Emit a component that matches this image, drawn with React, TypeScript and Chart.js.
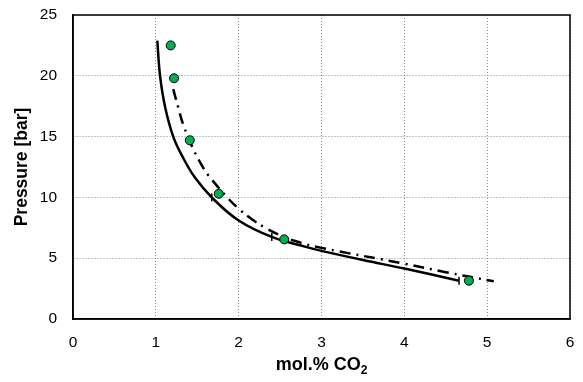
import React, { useEffect, useRef } from "react";
import { Chart, registerables } from "chart.js";

Chart.register(...registerables);

// Measured points (green markers)
const pointX = [1.18, 1.22, 1.41, 1.76, 2.55, 4.78];
const pointY = [22.5, 19.8, 14.7, 10.3, 6.55, 3.15];

// Solid model curve
const solidX = [1.018, 1.05, 1.11, 1.21, 1.33, 1.47, 1.675, 2.0, 2.4, 2.8, 3.0, 3.5, 4.0, 4.66];
const solidY = [22.9, 20.05, 17.5, 15.0, 13.25, 11.65, 10.0, 8.1, 6.75, 5.95, 5.6, 4.85, 4.15, 3.15];

// Dash-dot model curve
const dashX = [1.21, 1.27, 1.33, 1.45, 1.55, 1.63, 1.875, 2.02, 2.16, 2.32, 2.48, 2.66, 3.0, 4.0, 4.5, 5.08];
const dashY = [18.9, 17.4, 16.0, 14.0, 12.7, 11.85, 9.9, 8.95, 8.2, 7.5, 6.95, 6.45, 5.85, 4.55, 3.85, 3.1];

// Small vertical tick marks on the solid curve
const markX = [1.675, 2.4, 4.66];
const markY = [10.0, 6.75, 3.15];

const xTicks = [0, 1, 2, 3, 4, 5, 6];
const yTicks = [0, 5, 10, 15, 20, 25];

const FONT = "Arial, 'Liberation Sans', sans-serif";

const toXY = (xs: number[], ys: number[]) => xs.map((x, i) => ({ x, y: ys[i] }));

export default function App() {
  const ref = useRef<HTMLCanvasElement | null>(null);

  useEffect(() => {
    document.body.style.margin = "0";
    const canvas = ref.current;
    if (!canvas) return;

    const framePlugin = {
      id: "frameAndTitles",
      afterDraw(chart: any) {
        const { ctx, chartArea } = chart;
        ctx.save();
        ctx.strokeStyle = "#000";
        ctx.lineWidth = 1.5;
        ctx.setLineDash([]);
        ctx.strokeRect(chartArea.left, chartArea.top, chartArea.right - chartArea.left, chartArea.bottom - chartArea.top);

        // x title with subscript
        ctx.fillStyle = "#000";
        ctx.textBaseline = "alphabetic";
        const main = "mol.% CO";
        const sub = "2";
        ctx.font = `bold 18px ${FONT}`;
        const wMain = ctx.measureText(main).width;
        ctx.font = `bold 12px ${FONT}`;
        const wSub = ctx.measureText(sub).width;
        const cx = (chartArea.left + chartArea.right) / 2;
        const startX = cx - (wMain + wSub) / 2;
        const baseY = 370;
        ctx.font = `bold 18px ${FONT}`;
        ctx.textAlign = "left";
        ctx.fillText(main, startX, baseY);
        ctx.font = `bold 12px ${FONT}`;
        ctx.fillText(sub, startX + wMain, baseY + 4);

        // y title
        ctx.font = `bold 17.5px ${FONT}`;
        ctx.textAlign = "center";
        ctx.textBaseline = "middle";
        ctx.translate(22, (chartArea.top + chartArea.bottom) / 2);
        ctx.rotate(-Math.PI / 2);
        ctx.fillText("Pressure [bar]", 0, 0);
        ctx.restore();
      },
    };

    const chart = new Chart(canvas, {
      type: "scatter",
      data: {
        datasets: [
          {
            label: "data",
            data: toXY(pointX, pointY),
            pointRadius: 4.5,
            pointBackgroundColor: "#00B050",
            pointBorderColor: "#000",
            pointBorderWidth: 1,
            showLine: false,
          },
          {
            label: "ticks",
            data: toXY(markX, markY),
            pointStyle: "line",
            pointRotation: 90,
            pointRadius: 4,
            pointBorderColor: "#000",
            pointBorderWidth: 1.5,
            showLine: false,
          },
          {
            label: "solid",
            data: toXY(solidX, solidY),
            showLine: true,
            borderColor: "#000",
            borderWidth: 2.5,
            pointRadius: 0,
            tension: 0.4,
          },
          {
            label: "dashdot",
            data: toXY(dashX, dashY),
            showLine: true,
            borderColor: "#000",
            borderWidth: 2.5,
            borderDash: [11, 6, 2, 6],
            pointRadius: 0,
            tension: 0.4,
          },
        ],
      },
      options: {
        animation: false,
        responsive: false,
        maintainAspectRatio: false,
        layout: { padding: { top: 15, right: 13, left: 0, bottom: 0 } },
        plugins: {
          legend: { display: false },
          tooltip: { enabled: false },
        },
        scales: {
          x: {
            type: "linear",
            min: 0,
            max: 6,
            afterFit: (s: any) => {
              s.height = 63;
              s.paddingLeft = 0;
              s.paddingRight = 0;
            },
            afterBuildTicks: (s: any) => {
              s.ticks = xTicks.map((v) => ({ value: v }));
            },
            ticks: {
              color: "#000",
              font: { family: FONT, size: 15.5 },
              padding: 14,
              maxRotation: 0,
            },
            grid: { color: "#8a8a8a", lineWidth: 1, drawTicks: false },
            border: { display: true, color: "#000", width: 1.5, dash: [1, 2] },
          },
          y: {
            type: "linear",
            min: 0,
            max: 25,
            afterFit: (s: any) => {
              s.width = 73;
              s.paddingTop = 0;
              s.paddingBottom = 0;
            },
            afterBuildTicks: (s: any) => {
              s.ticks = yTicks.map((v) => ({ value: v }));
            },
            ticks: {
              color: "#000",
              font: { family: FONT, size: 15.5 },
              padding: 16,
            },
            grid: { color: "#8a8a8a", lineWidth: 1, drawTicks: false },
            border: { display: true, color: "#000", width: 1.5, dash: [1, 2] },
          },
        },
      },
      plugins: [framePlugin],
    });

    return () => chart.destroy();
  }, []);

  return (
    <div style={{ width: 583, height: 382 }}>
      <canvas ref={ref} width={583} height={382} style={{ display: "block" }} />
    </div>
  );
}
